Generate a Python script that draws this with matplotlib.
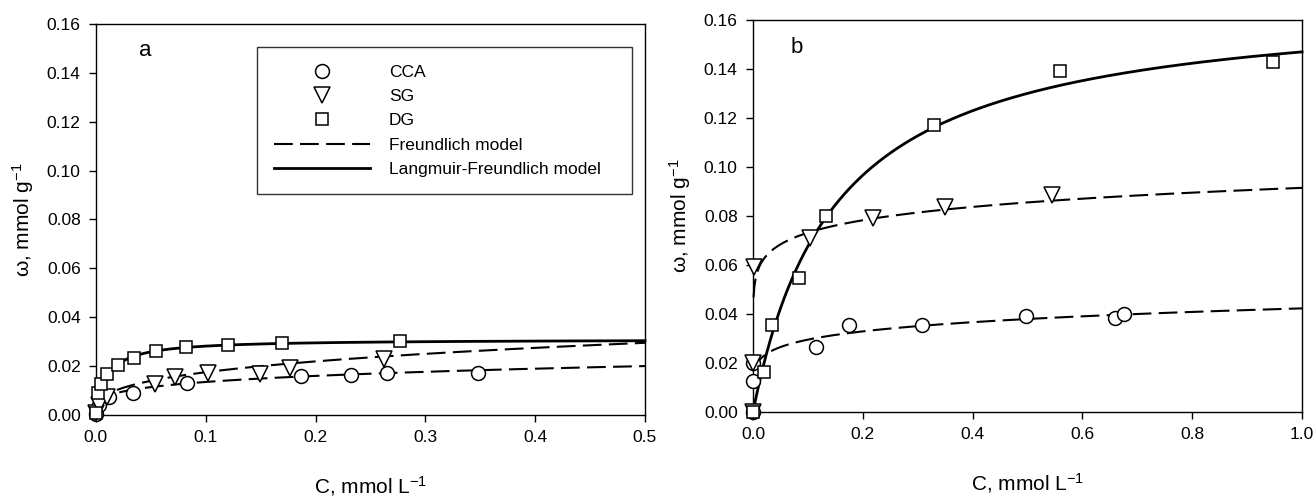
import matplotlib
matplotlib.use('Agg')
import matplotlib.pyplot as plt
import matplotlib.ticker as ticker
import numpy as np

plt.rcParams['font.family'] = ['Liberation Sans', 'DejaVu Sans']
plt.rcParams['mathtext.fontset'] = 'custom'
plt.rcParams['mathtext.rm'] = 'Liberation Sans'
plt.rcParams['mathtext.it'] = 'Liberation Sans:italic'

# panel a: measured points
a_cca_c = [0.0, 0.003, 0.012, 0.034, 0.083, 0.187, 0.232, 0.265, 0.348]
a_cca_w = [0.0005, 0.004, 0.0075, 0.0092, 0.0130, 0.0158, 0.0164, 0.0170, 0.0172]
a_sg_c = [0.0, 0.003, 0.010, 0.054, 0.072, 0.102, 0.149, 0.177, 0.262]
a_sg_w = [0.001, 0.004, 0.0075, 0.0128, 0.0155, 0.0172, 0.0168, 0.0193, 0.0230]
a_dg_c = [0.0, 0.002, 0.005, 0.010, 0.020, 0.035, 0.055, 0.082, 0.120, 0.169, 0.277]
a_dg_w = [0.001, 0.0089, 0.0125, 0.0168, 0.0205, 0.0232, 0.0262, 0.0280, 0.0288, 0.0293, 0.0303]

# panel b: measured points
b_cca_c = [0.0, 0.0, 0.0, 0.115, 0.174, 0.307, 0.498, 0.660, 0.675]
b_cca_w = [0.0, 0.0127, 0.020, 0.0264, 0.0355, 0.0355, 0.0393, 0.0382, 0.0400]
b_sg_c = [0.0, 0.0, 0.002, 0.103, 0.219, 0.350, 0.545]
b_sg_w = [0.0, 0.0199, 0.059, 0.0709, 0.079, 0.0835, 0.0885]
b_dg_c = [0.0, 0.020, 0.034, 0.084, 0.133, 0.330, 0.559, 0.947]
b_dg_w = [0.0, 0.0165, 0.0355, 0.0548, 0.0800, 0.1170, 0.1390, 0.1427]

# fitted model parameters  (Freundlich: K*C^n ; Langmuir-Freundlich: qm*(K C)^n/(1+(K C)^n))
a_cca_freund = (0.0237, 0.244)
a_sg_freund = (0.0370, 0.325)
a_dg_lf = (0.031, 100.0, 1.0)
b_cca_freund = (0.0423, 0.156)
b_sg_freund = (0.0915, 0.097)
b_dg_lf = (0.169, 6.68, 1.0)


def freundlich(c, p):
    return p[0] * c ** p[1]


def lang_freund(c, p):
    u = (p[1] * c) ** p[2]
    return p[0] * u / (1 + u)


fig = plt.figure(figsize=(13.16, 4.98), dpi=100)
ax1 = fig.add_axes([0.0729, 0.1667, 0.4172, 0.7851])
ax2 = fig.add_axes([0.5722, 0.1727, 0.4172, 0.7871])

mk = dict(linestyle='none', mfc='white', mec='black', mew=1.1, zorder=3)
dash = dict(color='black', lw=1.5, dashes=(9, 3.5), zorder=2)
solid = dict(color='black', lw=2.0, zorder=2)

# panel a
ca = np.linspace(0.001, 0.5, 500)
ax1.plot(a_cca_c, a_cca_w, marker='o', ms=10, label='CCA', **mk)
ax1.plot(a_sg_c, a_sg_w, marker='v', ms=11, label='SG', **mk)
ax1.plot(a_dg_c, a_dg_w, marker='s', ms=9, label='DG', **mk)
ax1.plot(ca, freundlich(ca, a_cca_freund), label='Freundlich model', **dash)
ax1.plot(ca, freundlich(ca, a_sg_freund), **dash)
ca0 = np.linspace(0, 0.5, 800)
ax1.plot(ca0, lang_freund(ca0, a_dg_lf), label='Langmuir-Freundlich model', **solid)

# panel b
cb = np.linspace(0.001, 1.0, 800)
ax2.plot(b_cca_c, b_cca_w, marker='o', ms=10, **mk)
ax2.plot(b_sg_c, b_sg_w, marker='v', ms=11, **mk)
ax2.plot(b_dg_c, b_dg_w, marker='s', ms=9, **mk)
cb2 = np.linspace(0.003, 1.0, 800)
ax2.plot(cb2, freundlich(cb2, b_cca_freund), **dash)
ax2.plot(cb, freundlich(cb, b_sg_freund), **dash)
cb0 = np.linspace(0, 1.0, 800)
ax2.plot(cb0, lang_freund(cb0, b_dg_lf), **solid)

for ax, xmax, xstep in [(ax1, 0.5, 0.1), (ax2, 1.0, 0.2)]:
    ax.set_xlim(0, xmax)
    ax.set_ylim(0, 0.16)
    ax.xaxis.set_major_locator(ticker.MultipleLocator(xstep))
    ax.yaxis.set_major_locator(ticker.MultipleLocator(0.02))
    ax.xaxis.set_major_formatter(ticker.FormatStrFormatter('%.1f'))
    ax.yaxis.set_major_formatter(ticker.FormatStrFormatter('%.2f'))
    ax.tick_params(direction='out', length=5, width=1, labelsize=12.5, pad=6)
    for s in ax.spines.values():
        s.set_linewidth(1.0)
    ax.set_xlabel('C, mmol L$^{-1}$', fontsize=15, labelpad=21)
    ax.set_ylabel('ω, mmol g$^{-1}$', fontsize=15, labelpad=8)
    for line in ax.lines:
        line.set_clip_on(False)

ax1.text(0.089, 0.933, 'a', transform=ax1.transAxes, fontsize=16, ha='center', va='center')
ax2.text(0.08, 0.929, 'b', transform=ax2.transAxes, fontsize=16, ha='center', va='center')

leg = ax1.legend(loc='upper left', bbox_to_anchor=(0.293, 0.941, 0.683, 0.0), mode='expand',
                 fontsize=12.5, frameon=True, fancybox=False, edgecolor='black',
                 handlelength=5.5, handletextpad=1.1, labelspacing=0.53, borderpad=1.0,
                 borderaxespad=0)
leg.get_frame().set_linewidth(1.0)

fig.savefig('out.png', dpi=100)
